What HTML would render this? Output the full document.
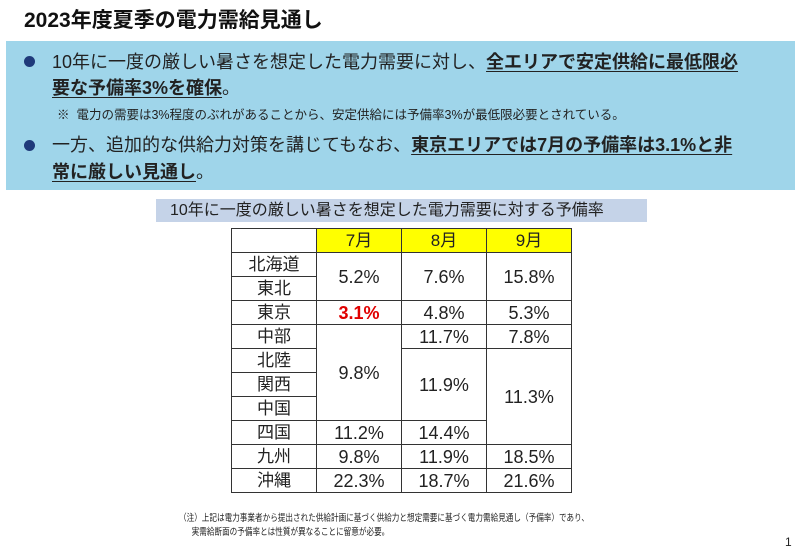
<!DOCTYPE html>
<html><head><meta charset="utf-8"><style>
body{margin:0;width:800px;height:554px;background:#fff;position:relative;overflow:hidden;font-family:"Liberation Sans","Noto Sans CJK JP",sans-serif;color:#222}
.a{position:absolute;white-space:nowrap}
.u{text-decoration:underline;font-weight:bold;text-underline-offset:3px}
.dot{position:absolute;width:11px;height:11px;border-radius:50%;background:#1f3a7a}
table{position:absolute;left:231px;top:228px;border-collapse:collapse;font-size:17px}
tr{height:24px}
td{border:1.5px solid #333;padding:0;text-align:center;width:84px;line-height:20px}
.y{background:#ffff00}
.n{font-size:18px}
</style></head><body>
<div class="a" style="left:24px;top:4px;font-size:21px;font-weight:bold;color:#111">2023年度夏季の電力需給見通し</div>
<div class="a" style="left:6px;top:41px;width:789px;height:149px;background:#9fd5ea"></div>
<div class="dot" style="left:24px;top:56px"></div>
<div class="a" style="left:52px;top:49px;font-size:18px;line-height:26px">10年に一度の厳しい暑さを想定した電力需要に対し、<span class="u">全エリアで安定供給に最低限必</span><br><span class="u">要な予備率3%を確保</span>。</div>
<div class="a" style="left:57px;top:104px;font-size:12.5px">※&nbsp; 電力の需要は3%程度のぶれがあることから、安定供給には予備率3%が最低限必要とされている。</div>
<div class="dot" style="left:24px;top:140px"></div>
<div class="a" style="left:52px;top:132px;font-size:18px;line-height:27px">一方、追加的な供給力対策を講じてもなお、<span class="u">東京エリアでは7月の予備率は3.1%と非</span><br><span class="u">常に厳しい見通し</span>。</div>
<div class="a" style="left:156px;top:199px;width:491px;height:23px;background:#c5d3e8"></div>
<div class="a" style="left:170px;top:200px;font-size:16px;line-height:21px">10年に一度の厳しい暑さを想定した電力需要に対する予備率</div>
<table>
<tr><td></td><td class="y">7月</td><td class="y">8月</td><td class="y">9月</td></tr>
<tr><td>北海道</td><td rowspan="2" class="n">5.2%</td><td rowspan="2" class="n">7.6%</td><td rowspan="2" class="n">15.8%</td></tr>
<tr><td>東北</td></tr>
<tr><td>東京</td><td class="n" style="color:#e00000;font-weight:bold">3.1%</td><td class="n">4.8%</td><td class="n">5.3%</td></tr>
<tr><td>中部</td><td rowspan="4" class="n">9.8%</td><td class="n">11.7%</td><td class="n">7.8%</td></tr>
<tr><td>北陸</td><td rowspan="3" class="n">11.9%</td><td rowspan="4" class="n">11.3%</td></tr>
<tr><td>関西</td></tr>
<tr><td>中国</td></tr>
<tr><td>四国</td><td class="n">11.2%</td><td class="n">14.4%</td></tr>
<tr><td>九州</td><td class="n">9.8%</td><td class="n">11.9%</td><td class="n">18.5%</td></tr>
<tr><td>沖縄</td><td class="n">22.3%</td><td class="n">18.7%</td><td class="n">21.6%</td></tr>
</table>
<div class="a" style="left:179px;top:512px;font-size:9.5px;line-height:14px;transform:scaleX(0.8);transform-origin:0 0">（注）上記は電力事業者から提出された供給計画に基づく供給力と想定需要に基づく電力需給見通し（予備率）であり、<br>&nbsp;&nbsp;&nbsp;&nbsp;&nbsp;&nbsp;実需給断面の予備率とは性質が異なることに留意が必要。</div>
<div class="a" style="left:785px;top:535px;font-size:12px">1</div>
</body></html>
